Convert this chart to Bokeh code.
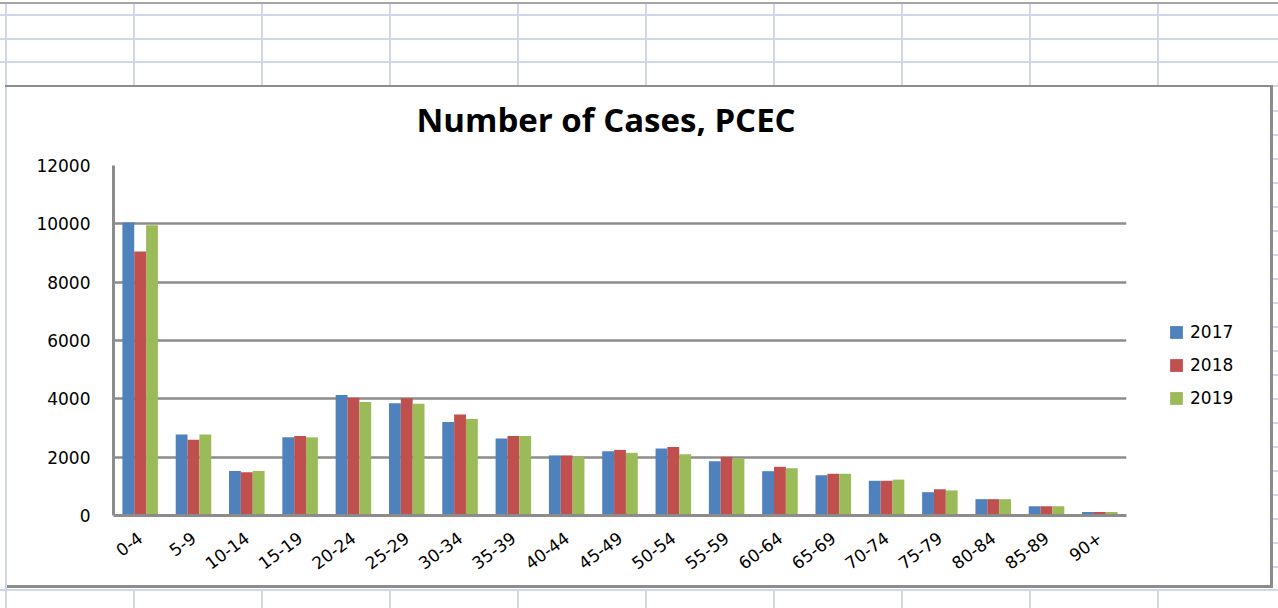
from bokeh.plotting import figure
from bokeh.models import (FactorRange, Range1d, FixedTicker, Legend, LegendItem,
                          ColumnDataSource, Div)
from bokeh.layouts import column, row
from bokeh.transform import dodge
from bokeh.embed import file_html
from bokeh.resources import INLINE

# ---------------- data ----------------
age_groups = ["0-4", "5-9", "10-14", "15-19", "20-24", "25-29", "30-34", "35-39",
              "40-44", "45-49", "50-54", "55-59", "60-64", "65-69", "70-74",
              "75-79", "80-84", "85-89", "90+"]
years = ["2017", "2018", "2019"]
cases_2017 = [10050, 2780, 1530, 2680, 4130, 3850, 3210, 2640, 2060, 2200, 2300,
              1860, 1520, 1380, 1190, 800, 560, 320, 120]
cases_2018 = [9050, 2600, 1480, 2730, 4040, 4020, 3460, 2730, 2060, 2250, 2350,
              2010, 1670, 1430, 1190, 900, 560, 320, 120]
cases_2019 = [9950, 2780, 1530, 2680, 3890, 3830, 3310, 2730, 2010, 2150, 2100,
              1960, 1620, 1430, 1230, 860, 560, 320, 120]
y_ticks = [0, 2000, 4000, 6000, 8000, 10000, 12000]
title_text = "Number of Cases, PCEC"

# ---------------- styles ----------------
colors = ["#4F81BD", "#C0504D", "#9BBB59"]
axis_grey = "#8C8C8C"
sheet_grid = "#D0D7E5"
PAGE_W = 1278
TOP_H, FIG_H, BOT_H = 87, 498, 23
SIDE_W = 8
MAIN_W = 1132          # page x 8 .. 1140
LEG_W = PAGE_W - 2 * SIDE_W - MAIN_W   # page x 1140 .. 1270
FONT = "DejaVu Sans"
FS = "17px"

src = ColumnDataSource(dict(age=age_groups, c2017=cases_2017,
                            c2018=cases_2018, c2019=cases_2019))

p = figure(x_range=FactorRange(*age_groups), y_range=Range1d(0, 12000),
           width=MAIN_W, height=FIG_H, output_backend="svg", toolbar_location=None,
           title=title_text,
           min_border_left=105, min_border_right=14, min_border_top=78,
           min_border_bottom=70)
p.background_fill_color = "white"
p.border_fill_color = "white"
p.outline_line_color = None

bw = 1 / 4.5
for i, (col, c) in enumerate(zip(["c2017", "c2018", "c2019"], colors)):
    p.vbar(x=dodge("age", (i - 1) * bw, range=p.x_range), top=col, width=bw,
           source=src, fill_color=c, line_color=None)

# title
p.title.align = "left"
p.title.offset = 303
p.title.text_font = "Open Sans"
p.title.text_font_style = "bold"
p.title.text_font_size = "33px"
p.title.text_color = "#000000"
p.title.standoff = 0
p.title.padding = dict(left=0, right=0, top=0, bottom=24)

# grid
p.xgrid.visible = False
p.ygrid.ticker = FixedTicker(ticks=y_ticks)
p.ygrid.grid_line_color = axis_grey
p.ygrid.grid_line_width = 2.5

# axes
p.yaxis.ticker = FixedTicker(ticks=y_ticks)
for ax in (p.xaxis[0], p.yaxis[0]):
    ax.axis_line_color = axis_grey
    ax.axis_line_width = 3
    ax.major_tick_line_color = None
    ax.minor_tick_line_color = None
    ax.major_tick_out = 0
    ax.major_tick_in = 0
    ax.major_label_text_font = FONT
    ax.major_label_text_font_size = FS
    ax.major_label_text_color = "#000000"
p.yaxis.major_label_standoff = 23
p.xaxis.major_label_standoff = 20
p.xaxis.major_label_orientation = 0.64

# ---------------- legend (beside the plot area) ----------------
lf = figure(width=LEG_W, height=FIG_H, output_backend="svg", toolbar_location=None,
            x_axis_type=None, y_axis_type=None, x_range=Range1d(0, 1),
            y_range=Range1d(0, 1), min_border=0)
lf.outline_line_color = None
lf.grid.visible = False
lf.background_fill_color = "white"
lf.border_fill_color = "white"
# legend keys (their own marks lie outside this panel's visible range)
leg_renderers = [lf.vbar(x=[5], top=[5], width=0.1, fill_color=c, line_color=None)
                 for c in colors]
legend = Legend(items=[LegendItem(label=y, renderers=[r])
                       for y, r in zip(years, leg_renderers)],
                location=(28, 107), orientation="vertical",
                padding=0, margin=0, spacing=13,
                glyph_width=16, glyph_height=16, label_height=20,
                label_standoff=6, label_text_font=FONT,
                label_text_font_size=FS, label_text_color="#000000",
                border_line_color=None, background_fill_alpha=0)
lf.add_layout(legend, "center")


# ---------------- spreadsheet surroundings (HTML/SVG decoration) ----------------
def svg_div(w, h, rects):
    body = "".join(
        f'<rect x="{x}" y="{y}" width="{rw}" height="{rh}" fill="{c}"/>'
        for x, y, rw, rh, c in rects)
    html = (f'<svg xmlns="http://www.w3.org/2000/svg" width="{w}" height="{h}" '
            f'style="display:block">{body}</svg>')
    return Div(text=html, width=w, height=h, margin=0,
               styles={"overflow": "hidden", "line-height": "0"})


col_lines = [6] + [134 + 128 * k for k in range(9)]
row_step = 24

top_rects = [(0, 2, PAGE_W, 2, "#A6A6A6")]
for yy in (15, 39, 62):
    top_rects.append((0, yy - 1, PAGE_W, 2, sheet_grid))
for xx in col_lines:
    top_rects.append((xx - 1, 4, 2, TOP_H - 4, sheet_grid))
top_rects.append((5, TOP_H - 2, 1268, 2, axis_grey))
top_rects.append((1273, TOP_H - 2, PAGE_W - 1273, 2, sheet_grid))

left_rects = [(5, 0, 2, FIG_H, sheet_grid)]

right_rects = [(0, 0, 3, FIG_H, axis_grey)]
for k in range(1, 21):
    yy = row_step * k - 1
    if yy < FIG_H:
        right_rects.append((3, yy, SIDE_W - 3, 2, sheet_grid))

bot_rects = [(5, 0, 1268, 3, axis_grey), (0, 4, PAGE_W, 2, sheet_grid),
             (5, 0, 2, BOT_H, sheet_grid)]
for xx in col_lines[1:]:
    bot_rects.append((xx - 1, 5, 2, BOT_H - 5, sheet_grid))

top_div = svg_div(PAGE_W, TOP_H, top_rects)
left_div = svg_div(SIDE_W, FIG_H, left_rects)
right_div = svg_div(SIDE_W, FIG_H, right_rects)
bot_div = svg_div(PAGE_W, BOT_H, bot_rects)

layout = column(top_div, row(left_div, p, lf, right_div, spacing=0), bot_div, spacing=0)

open("out.html", "w").write(file_html(layout, INLINE))
